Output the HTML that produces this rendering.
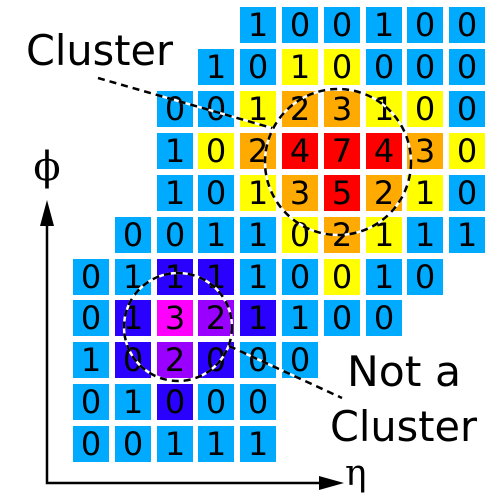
<!DOCTYPE html>
<html><head><meta charset="utf-8"><style>body{margin:0;background:#fff}svg{display:block}</style></head><body>
<svg width="500" height="500" viewBox="0 0 500 500" xmlns="http://www.w3.org/2000/svg">
<style>
.B{fill:#00aaff}.Y{fill:#ffff00}.O{fill:#ffaa00}.R{fill:#ff0000}.D{fill:#2a00ff}.M{fill:#ff00ff}.P{fill:#9900ff}
text.n{font-family:"DejaVu Sans","Liberation Sans",sans-serif;font-size:32px;text-anchor:middle;fill:#000}
</style>
<!-- row0 y=7 -->
<rect class="B" x="240" y="7" width="36" height="36"/><text class="n" x="258" y="36">1</text>
<rect class="B" x="282" y="7" width="36" height="36"/><text class="n" x="300" y="36">0</text>
<rect class="B" x="324" y="7" width="36" height="36"/><text class="n" x="342" y="36">0</text>
<rect class="B" x="366" y="7" width="36" height="36"/><text class="n" x="384" y="36">1</text>
<rect class="B" x="407" y="7" width="36" height="36"/><text class="n" x="425" y="36">0</text>
<rect class="B" x="449" y="7" width="36" height="36"/><text class="n" x="467" y="36">0</text>
<!-- row1 y=49 -->
<rect class="B" x="198" y="49" width="36" height="36"/><text class="n" x="216" y="78">1</text>
<rect class="B" x="240" y="49" width="36" height="36"/><text class="n" x="258" y="78">0</text>
<rect class="Y" x="282" y="49" width="36" height="36"/><text class="n" x="300" y="78">1</text>
<rect class="Y" x="324" y="49" width="36" height="36"/><text class="n" x="342" y="78">0</text>
<rect class="B" x="366" y="49" width="36" height="36"/><text class="n" x="384" y="78">0</text>
<rect class="B" x="407" y="49" width="36" height="36"/><text class="n" x="425" y="78">0</text>
<rect class="B" x="449" y="49" width="36" height="36"/><text class="n" x="467" y="78">0</text>
<!-- row2 y=91 -->
<rect class="B" x="157" y="91" width="36" height="36"/><text class="n" x="175" y="120">0</text>
<rect class="B" x="198" y="91" width="36" height="36"/><text class="n" x="216" y="120">0</text>
<rect class="Y" x="240" y="91" width="36" height="36"/><text class="n" x="258" y="120">1</text>
<rect class="O" x="282" y="91" width="36" height="36"/><text class="n" x="300" y="120">2</text>
<rect class="O" x="324" y="91" width="36" height="36"/><text class="n" x="342" y="120">3</text>
<rect class="Y" x="366" y="91" width="36" height="36"/><text class="n" x="384" y="120">1</text>
<rect class="Y" x="407" y="91" width="36" height="36"/><text class="n" x="425" y="120">0</text>
<rect class="B" x="449" y="91" width="36" height="36"/><text class="n" x="467" y="120">0</text>
<!-- row3 y=133 -->
<rect class="B" x="157" y="133" width="36" height="36"/><text class="n" x="175" y="162">1</text>
<rect class="Y" x="198" y="133" width="36" height="36"/><text class="n" x="216" y="162">0</text>
<rect class="O" x="240" y="133" width="36" height="36"/><text class="n" x="258" y="162">2</text>
<rect class="R" x="282" y="133" width="36" height="36"/><text class="n" x="300" y="162">4</text>
<rect class="R" x="324" y="133" width="36" height="36"/><text class="n" x="342" y="162">7</text>
<rect class="R" x="366" y="133" width="36" height="36"/><text class="n" x="384" y="162">4</text>
<rect class="O" x="407" y="133" width="36" height="36"/><text class="n" x="425" y="162">3</text>
<rect class="Y" x="449" y="133" width="36" height="36"/><text class="n" x="467" y="162">0</text>
<!-- row4 y=175 -->
<rect class="B" x="157" y="175" width="36" height="36"/><text class="n" x="175" y="204">1</text>
<rect class="B" x="198" y="175" width="36" height="36"/><text class="n" x="216" y="204">0</text>
<rect class="Y" x="240" y="175" width="36" height="36"/><text class="n" x="258" y="204">1</text>
<rect class="O" x="282" y="175" width="36" height="36"/><text class="n" x="300" y="204">3</text>
<rect class="R" x="324" y="175" width="36" height="36"/><text class="n" x="342" y="204">5</text>
<rect class="O" x="366" y="175" width="36" height="36"/><text class="n" x="384" y="204">2</text>
<rect class="Y" x="407" y="175" width="36" height="36"/><text class="n" x="425" y="204">1</text>
<rect class="B" x="449" y="175" width="36" height="36"/><text class="n" x="467" y="204">0</text>
<!-- row5 y=217 -->
<rect class="B" x="115" y="217" width="36" height="36"/><text class="n" x="133" y="246">0</text>
<rect class="B" x="157" y="217" width="36" height="36"/><text class="n" x="175" y="246">0</text>
<rect class="B" x="198" y="217" width="36" height="36"/><text class="n" x="216" y="246">1</text>
<rect class="B" x="240" y="217" width="36" height="36"/><text class="n" x="258" y="246">1</text>
<rect class="Y" x="282" y="217" width="36" height="36"/><text class="n" x="300" y="246">0</text>
<rect class="O" x="324" y="217" width="36" height="36"/><text class="n" x="342" y="246">2</text>
<rect class="Y" x="366" y="217" width="36" height="36"/><text class="n" x="384" y="246">1</text>
<rect class="B" x="407" y="217" width="36" height="36"/><text class="n" x="425" y="246">1</text>
<rect class="B" x="449" y="217" width="36" height="36"/><text class="n" x="467" y="246">1</text>
<!-- row6 y=259 -->
<rect class="B" x="73" y="259" width="36" height="36"/><text class="n" x="91" y="288">0</text>
<rect class="B" x="115" y="259" width="36" height="36"/><text class="n" x="133" y="288">1</text>
<rect class="D" x="157" y="259" width="36" height="36"/><text class="n" x="175" y="288">1</text>
<rect class="D" x="198" y="259" width="36" height="36"/><text class="n" x="216" y="288">1</text>
<rect class="B" x="240" y="259" width="36" height="36"/><text class="n" x="258" y="288">1</text>
<rect class="B" x="282" y="259" width="36" height="36"/><text class="n" x="300" y="288">0</text>
<rect class="Y" x="324" y="259" width="36" height="36"/><text class="n" x="342" y="288">0</text>
<rect class="B" x="366" y="259" width="36" height="36"/><text class="n" x="384" y="288">1</text>
<rect class="B" x="407" y="259" width="36" height="36"/><text class="n" x="425" y="288">0</text>
<!-- row7 y=300 -->
<rect class="B" x="73" y="300" width="36" height="36"/><text class="n" x="91" y="329">0</text>
<rect class="D" x="115" y="300" width="36" height="36"/><text class="n" x="133" y="329">1</text>
<rect class="M" x="157" y="300" width="36" height="36"/><text class="n" x="175" y="329">3</text>
<rect class="P" x="198" y="300" width="36" height="36"/><text class="n" x="216" y="329">2</text>
<rect class="D" x="240" y="300" width="36" height="36"/><text class="n" x="258" y="329">1</text>
<rect class="B" x="282" y="300" width="36" height="36"/><text class="n" x="300" y="329">1</text>
<rect class="B" x="324" y="300" width="36" height="36"/><text class="n" x="342" y="329">0</text>
<rect class="B" x="366" y="300" width="36" height="36"/><text class="n" x="384" y="329">0</text>
<!-- row8 y=342 -->
<rect class="B" x="73" y="342" width="36" height="36"/><text class="n" x="91" y="371">1</text>
<rect class="D" x="115" y="342" width="36" height="36"/><text class="n" x="133" y="371">0</text>
<rect class="P" x="157" y="342" width="36" height="36"/><text class="n" x="175" y="371">2</text>
<rect class="D" x="198" y="342" width="36" height="36"/><text class="n" x="216" y="371">0</text>
<rect class="B" x="240" y="342" width="36" height="36"/><text class="n" x="258" y="371">0</text>
<rect class="B" x="282" y="342" width="36" height="36"/><text class="n" x="300" y="371">0</text>
<!-- row9 y=384 -->
<rect class="B" x="73" y="384" width="36" height="36"/><text class="n" x="91" y="413">0</text>
<rect class="B" x="115" y="384" width="36" height="36"/><text class="n" x="133" y="413">1</text>
<rect class="D" x="157" y="384" width="36" height="36"/><text class="n" x="175" y="413">0</text>
<rect class="B" x="198" y="384" width="36" height="36"/><text class="n" x="216" y="413">0</text>
<rect class="B" x="240" y="384" width="36" height="36"/><text class="n" x="258" y="413">0</text>
<!-- row10 y=426 -->
<rect class="B" x="73" y="426" width="36" height="36"/><text class="n" x="91" y="455">0</text>
<rect class="B" x="115" y="426" width="36" height="36"/><text class="n" x="133" y="455">0</text>
<rect class="B" x="157" y="426" width="36" height="36"/><text class="n" x="175" y="455">1</text>
<rect class="B" x="198" y="426" width="36" height="36"/><text class="n" x="216" y="455">1</text>
<rect class="B" x="240" y="426" width="36" height="36"/><text class="n" x="258" y="455">1</text>

<!-- circles and leaders -->
<g fill="none" stroke-width="2.5">
<circle cx="338" cy="162" r="73" stroke="#fff"/>
<circle cx="338" cy="162" r="73" stroke="#000" stroke-dasharray="7,5"/>
<circle cx="178" cy="327" r="54" stroke="#fff"/>
<circle cx="178" cy="327" r="54" stroke="#000" stroke-dasharray="7,5"/>
<line x1="98" y1="78" x2="272" y2="128" stroke="#fff"/>
<line x1="98" y1="78" x2="272" y2="128" stroke="#000" stroke-dasharray="7,5"/>
<line x1="229" y1="346" x2="342" y2="398" stroke="#fff"/>
<line x1="229" y1="346" x2="342" y2="398" stroke="#000" stroke-dasharray="7,5"/>
</g>

<!-- axes -->
<polyline points="47,222 47,483 322,483" fill="none" stroke="#000" stroke-width="2.5"/>
<polygon points="47,200 40,226 54,226" fill="#000"/>
<polygon points="344,483 319,476 319,490" fill="#000"/>
<text x="47" y="180" font-family="'DejaVu Serif','Liberation Serif',serif" font-size="40" text-anchor="middle">ϕ</text>
<text x="345" y="485" font-family="'DejaVu Serif','Liberation Serif',serif" font-size="36">η</text>

<g font-family="'DejaVu Sans','Liberation Sans',sans-serif" font-size="42" fill="#000">
<text x="26" y="65" textLength="147" lengthAdjust="spacingAndGlyphs">Cluster</text>
<text x="347" y="386" textLength="114" lengthAdjust="spacingAndGlyphs">Not a</text>
<text x="330" y="441" textLength="147" lengthAdjust="spacingAndGlyphs">Cluster</text>
</g>
</svg>
</body></html>
